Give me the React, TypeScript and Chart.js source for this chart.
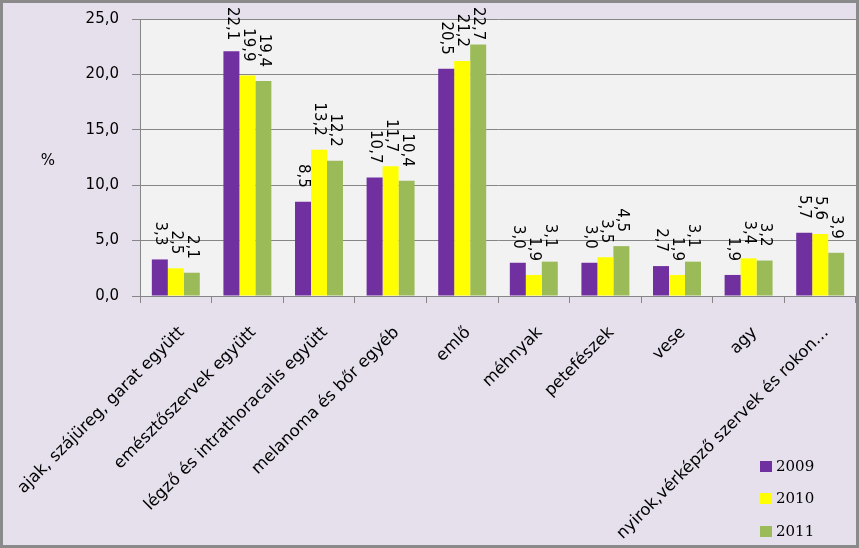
import React, { useEffect, useRef } from 'react';
import { Chart, registerables } from 'chart.js';

Chart.register(...registerables);

const categories = [
  'ajak, szájüreg, garat együtt',
  'emésztőszervek együtt',
  'légző és intrathoracalis együtt',
  'melanoma és bőr egyéb',
  'emlő',
  'méhnyak',
  'petefészek',
  'vese',
  'agy',
  'nyirok,vérképző szervek és rokon…',
];
const seriesLabels = ['2009', '2010', '2011'];
const values2009 = [3.3, 22.1, 8.5, 10.7, 20.5, 3.0, 3.0, 2.7, 1.9, 5.7];
const values2010 = [2.5, 19.9, 13.2, 11.7, 21.2, 1.9, 3.5, 1.9, 3.4, 5.6];
const values2011 = [2.1, 19.4, 12.2, 10.4, 22.7, 3.1, 4.5, 3.1, 3.2, 3.9];
const seriesColors = ['#7030A0', '#FFFF00', '#9BBB59'];
const yMin = 0;
const yMax = 25;
const yStep = 5;
const yTitle = '%';

const fmt = (v: number) => v.toFixed(1).replace('.', ',');
const FONT = '"DejaVu Sans", sans-serif';
const GRID = '#868686';

const bgPlugin = {
  id: 'plotBg',
  beforeDraw(chart: any) {
    const { ctx, chartArea } = chart;
    ctx.save();
    ctx.fillStyle = '#F2F2F2';
    ctx.fillRect(chartArea.left, chartArea.top, chartArea.right - chartArea.left, chartArea.bottom - chartArea.top);
    ctx.restore();
  },
};

const labelPlugin = {
  id: 'rotLabels',
  afterDatasetsDraw(chart: any) {
    const ctx = chart.ctx;
    ctx.save();
    ctx.font = '15px ' + FONT;
    ctx.fillStyle = '#000';
    chart.data.datasets.forEach((ds: any, i: number) => {
      const meta = chart.getDatasetMeta(i);
      meta.data.forEach((bar: any, j: number) => {
        const text = fmt(ds.data[j]);
        const w = ctx.measureText(text).width;
        let start = bar.y - 14 - w;
        if (start < 4) start = 4;
        ctx.save();
        ctx.translate(bar.x, start);
        ctx.rotate(Math.PI / 2);
        ctx.textAlign = 'left';
        ctx.textBaseline = 'middle';
        ctx.fillText(text, 0, 0);
        ctx.restore();
      });
    });
    ctx.restore();
  },
};

const extrasPlugin = {
  id: 'extras',
  afterDraw(chart: any) {
    const ctx = chart.ctx;
    ctx.save();
    ctx.font = '15px ' + FONT;
    ctx.fillStyle = '#000';
    ctx.textAlign = 'center';
    ctx.textBaseline = 'middle';
    ctx.fillText(yTitle, 45, 158);
    ctx.font = '15px "DejaVu Serif", serif';
    ctx.textAlign = 'left';
    const rows = [464, 496, 529];
    chart.data.datasets.forEach((ds: any, i: number) => {
      const y = rows[i];
      ctx.fillStyle = ds.backgroundColor;
      ctx.fillRect(757, y - 6, 12, 11);
      ctx.fillStyle = '#000';
      ctx.fillText(ds.label, 773, y);
    });
    ctx.restore();
  },
};

export default function App() {
  const ref = useRef<HTMLCanvasElement>(null);
  useEffect(() => {
    if (!ref.current) return;
    const series = [values2009, values2010, values2011];
    const chart = new Chart(ref.current, {
      type: 'bar',
      data: {
        labels: categories,
        datasets: series.map((d, i) => ({
          label: seriesLabels[i],
          data: d,
          backgroundColor: seriesColors[i],
          borderWidth: 0,
          categoryPercentage: 0.67,
          barPercentage: 1.0,
        })),
      },
      options: {
        responsive: false,
        animation: false,
        layout: { padding: { top: 16, right: 0, left: 0, bottom: 0 } },
        plugins: {
          legend: { display: false },
          tooltip: { enabled: false },
        },
        scales: {
          x: {
            grid: {
              drawOnChartArea: false,
              drawTicks: true,
              tickLength: 7,
              color: GRID,
              offset: true,
            },
            border: { color: GRID, width: 1 },
            ticks: {
              color: '#000',
              font: { family: 'DejaVu Sans', size: 16.5 },
              minRotation: 45,
              maxRotation: 45,
              autoSkip: false,
              padding: 20,
              labelOffset: 6,
            },
            afterFit(scale: any) {
              scale.height = 249;
              scale.paddingLeft = 0;
              scale.paddingRight = 0;
            },
          },
          y: {
            min: yMin,
            max: yMax,
            ticks: {
              stepSize: yStep,
              color: '#000',
              font: { family: 'DejaVu Sans', size: 15 },
              padding: 13,
              callback: (v: any) => fmt(Number(v)),
            },
            grid: { color: GRID, tickLength: 8 },
            border: { color: GRID, width: 1 },
            afterFit(scale: any) {
              scale.width = 137;
              scale.paddingTop = 0;
              scale.paddingBottom = 0;
            },
          },
        },
      },
      plugins: [bgPlugin, labelPlugin, extrasPlugin],
    });
    return () => chart.destroy();
  }, []);
  return (
    <div
      style={{
        position: 'fixed',
        left: 0,
        top: 0,
        width: 859,
        height: 548,
        boxSizing: 'border-box',
        border: '3px solid #8a8a8a',
        background: '#E5E0EC',
      }}
    >
      <canvas ref={ref} width={853} height={542} style={{ display: 'block' }} />
    </div>
  );
}
